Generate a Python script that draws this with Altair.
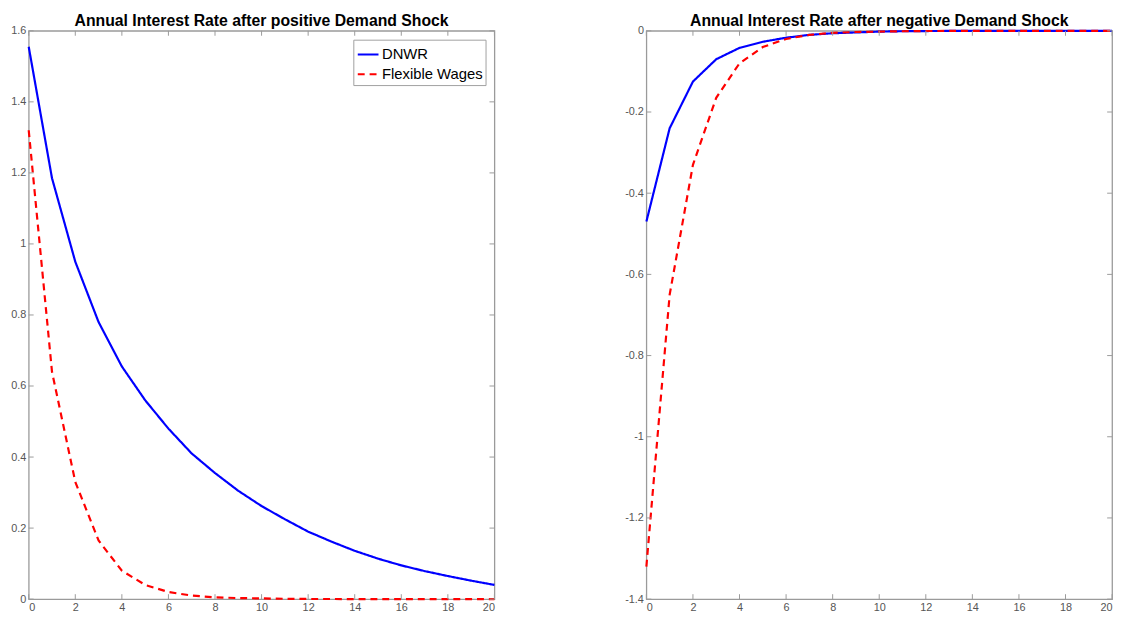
import altair as alt
import pandas as pd

periods = list(range(21))

pos_dnwr = [1.555, 1.185, 0.95, 0.78, 0.655, 0.56, 0.48, 0.41, 0.355, 0.305, 0.262,
            0.225, 0.19, 0.162, 0.136, 0.114, 0.095, 0.079, 0.065, 0.052, 0.04]
pos_flex = [1.32, 0.64, 0.33, 0.165, 0.08, 0.04, 0.02, 0.01, 0.005, 0.003, 0.002,
            0.001, 0.0005, 0.0003, 0.0002, 0.0001, 0.0, 0.0, 0.0, 0.0, 0.0]
neg_dnwr = [-0.47, -0.24, -0.125, -0.07, -0.042, -0.027, -0.017, -0.01, -0.006, -0.004, -0.002,
            -0.001, -0.0006, -0.0003, -0.0002, -0.0001, 0.0, 0.0, 0.0, 0.0, 0.0]
neg_flex = [-1.32, -0.65, -0.33, -0.165, -0.08, -0.04, -0.02, -0.01, -0.005, -0.003, -0.002,
            -0.001, -0.0005, -0.0003, -0.0002, -0.0001, 0.0, 0.0, 0.0, 0.0, 0.0]

series_names = ["DNWR", "Flexible Wages"]
series_colors = ["#0000ff", "#ff0000"]
series_dashes = [[1, 0], [7, 5]]

x_ticks = list(range(0, 21, 2))
pos_y_ticks = [0, 0.2, 0.4, 0.6, 0.8, 1.0, 1.2, 1.4, 1.6]
neg_y_ticks = [-1.4, -1.2, -1.0, -0.8, -0.6, -0.4, -0.2, 0]

titles = ["Annual Interest Rate after positive Demand Shock",
          "Annual Interest Rate after negative Demand Shock"]

W, H = 472, 576
GRAY = "#9a9a9a"
TICK = 5
LABEL_EXPR = "replace(format(datum.value, '~g'), '\u2212', '-')"


def panel(dnwr, flex, ydomain, yticks, title, show_legend):
    df = pd.DataFrame({
        "t": periods * 2,
        "v": dnwr + flex,
        "s": [series_names[0]] * len(periods) + [series_names[1]] * len(periods),
    })
    xscale = alt.Scale(domain=[0, 20], nice=False)
    yscale = alt.Scale(domain=ydomain, nice=False, zero=False)
    xs = alt.X("t:Q", scale=xscale,
               axis=alt.Axis(values=x_ticks, title=None, ticks=False, domain=False,
                             grid=False, labelPadding=3))
    ys = alt.Y("v:Q", scale=yscale,
               axis=alt.Axis(values=yticks, title=None, ticks=False, domain=False,
                             grid=False, labelPadding=3, labelExpr=LABEL_EXPR))
    leg = alt.Legend(title=None, orient="top-right") if show_legend else None
    color = alt.Color("s:N", scale=alt.Scale(domain=series_names, range=series_colors), legend=leg)
    dash = alt.StrokeDash("s:N", scale=alt.Scale(domain=series_names, range=series_dashes), legend=leg)
    base = alt.Chart(df)
    l1 = base.transform_filter(alt.datum.s == series_names[0]).mark_line(strokeWidth=2.2).encode(
        x=xs, y=ys, color=color, strokeDash=dash)
    l2 = base.transform_filter(alt.datum.s == series_names[1]).mark_line(strokeWidth=2.2).encode(
        x=xs, y=ys, color=color, strokeDash=dash)

    xt = alt.Chart(pd.DataFrame({"t": x_ticks}))
    yt = alt.Chart(pd.DataFrame({"v": yticks}))
    xsc = alt.X("t:Q", scale=xscale)
    ysc = alt.Y("v:Q", scale=yscale)
    tb = xt.mark_rule(color=GRAY, strokeWidth=1).encode(x=xsc, y=alt.value(H), y2=alt.value(H - TICK))
    tt = xt.mark_rule(color=GRAY, strokeWidth=1).encode(x=xsc, y=alt.value(0), y2=alt.value(TICK))
    tl = yt.mark_rule(color=GRAY, strokeWidth=1).encode(y=ysc, x=alt.value(0), x2=alt.value(TICK))
    tr = yt.mark_rule(color=GRAY, strokeWidth=1).encode(y=ysc, x=alt.value(W), x2=alt.value(W - TICK))

    return alt.layer(l1, l2, tb, tt, tl, tr).properties(
        width=W, height=H,
        title=alt.TitleParams(title, fontSize=16, font="Liberation Sans", fontWeight="bold",
                              color="#000000", offset=-4, anchor="middle"),
    )


left = panel(pos_dnwr, pos_flex, [0, 1.6], pos_y_ticks, titles[0], True)
right = panel(neg_dnwr, neg_flex, [-1.4, 0], neg_y_ticks, titles[1], False)

chart = alt.hconcat(left, right, spacing=125).resolve_legend(
    color="independent", strokeDash="independent"
).properties(
    padding={"left": 2, "right": 0, "top": 0, "bottom": 0},
    background="white",
).configure_view(
    stroke=GRAY, strokeWidth=1.3
).configure_axis(
    labelFont="Liberation Sans", labelFontSize=11, labelColor="#555555",
).configure_legend(
    labelFont="Liberation Sans", labelFontSize=15, labelColor="#000000",
    strokeColor="#a0a0a0", fillColor="white", padding=3, offset=9,
    symbolType="stroke", symbolStrokeWidth=2.2, symbolSize=441, rowPadding=0,
    labelOffset=2,
)

chart.save("out.html", embed_options={"renderer": "svg", "actions": False})
